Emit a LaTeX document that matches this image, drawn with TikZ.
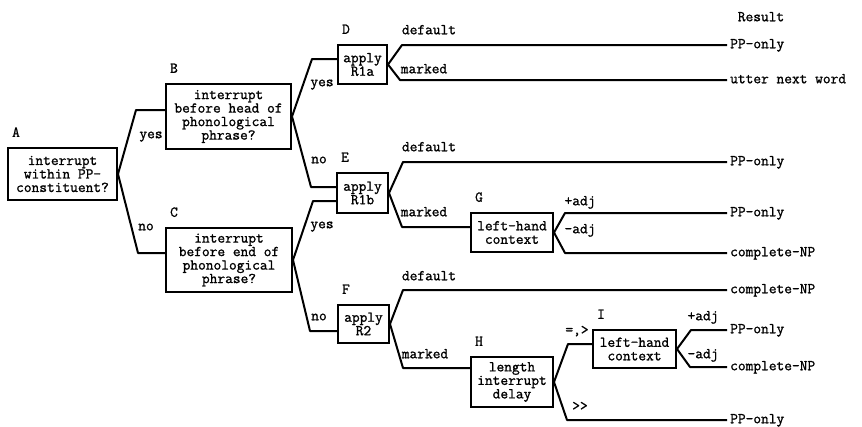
\documentclass[tikz,border=0pt]{standalone}
\usepackage{fontspec}
\newfontfamily\typewr{Latin Modern Mono}[FakeBold=1.2]
\usetikzlibrary{calc}

\begin{document}
\begin{tikzpicture}[x=1pt,y=-1pt,
  font=\typewr\fontsize{15}{13.5}\selectfont,
  box/.style={draw,line width=2pt,align=center,inner sep=0pt},
  tag/.style={inner sep=0pt,text height=9pt,text depth=2.5pt},
  res/.style={tag,anchor=west,inner xsep=3pt},
  branch/.style={line width=2pt,line join=round}]
  \useasboundingbox (0,0) rectangle (862,426);
  % decision boxes
  \node[box,minimum width=109pt,minimum height=52pt] (A) at (62.5,174) {interrupt\\within PP-\\constituent?};
  \node[box,minimum width=125pt,minimum height=65pt] (B) at (228.5,116.5) {interrupt\\before head of\\phonological\\phrase?};
  \node[box,minimum width=126pt,minimum height=64pt] (C) at (229,260) {interrupt\\before end of\\phonological\\phrase?};
  \node[box,minimum width=49pt,minimum height=39pt] (D) at (362.5,64.5) {apply\\R1a};
  \node[box,minimum width=51pt,minimum height=40pt] (E) at (362.5,193) {apply\\R1b};
  \node[box,minimum width=51pt,minimum height=38pt] (F) at (363.5,324) {apply\\R2};
  \node[box,minimum width=82pt,minimum height=39pt] (G) at (512,232.5) {left-hand\\context};
  \node[box,minimum width=82pt,minimum height=50pt] (H) at (512,382) {length\\interrupt\\delay};
  \node[box,minimum width=83pt,minimum height=38pt] (I) at (634.5,349) {left-hand\\context};
  % letters over the boxes
  \foreach \b in {A,B,C,D,E,F,G,H,I}
    \node[tag] (l\b) at ($(\b.north west)+(9,-13.5)$) {\b};
  % results
  \node[tag] (head) at (761,18) {Result};
  \node[res] (r1) at (727,45) {PP-only};
  \node[res] (r2) at (727,80) {utter next word};
  \node[res] (r3) at (727,162) {PP-only};
  \node[res] (r4) at (727,213) {PP-only};
  \node[res] (r5) at (727,253) {complete-NP};
  \node[res] (r6) at (727,290) {complete-NP};
  \node[res] (r7) at (727,330) {PP-only};
  \node[res] (r8) at (727,367) {complete-NP};
  \node[res] (r9) at (727,420) {PP-only};
  % branches
  \draw[branch] (A.east) -- (136,110) -- (B.west |- 0,110);
  \draw[branch] (A.east) -- (138,253) -- (C.west |- 0,253);
  \draw[branch] (B.east) -- (312,59) -- (D.west |- 0,59);
  \draw[branch] (B.east) -- (311,187) -- (E.west |- 0,187);
  \draw[branch] (C.east) -- (313,201) -- (E.west |- 0,201);
  \draw[branch] (C.east) -- (310,331) -- (F.west |- 0,331);
  \draw[branch] (D.east) -- (r1.west -| 402,0) -- (r1.west);
  \draw[branch] (D.east) -- (r2.west -| 400,0) -- (r2.west);
  \draw[branch] (E.east) -- (r3.west -| 403,0) -- (r3.west);
  \draw[branch] (E.east) -- (402,227) -- (G.west |- 0,227);
  \draw[branch] (G.east) -- (r4.west -| 565,0) -- (r4.west);
  \draw[branch] (G.east) -- (r5.west -| 565,0) -- (r5.west);
  \draw[branch] (F.east) -- (r6.west -| 403,0) -- (r6.west);
  \draw[branch] (F.east) -- (403,368) -- (H.west |- 0,368);
  \draw[branch] (H.east) -- (568,344) -- (I.west |- 0,344);
  \draw[branch] (H.east) -- (r9.west -| 567,0) -- (r9.west);
  \draw[branch] (I.east) -- (r7.west -| 691,0) -- (r7.west);
  \draw[branch] (I.east) -- (r8.west -| 690,0) -- (r8.west);
  % branch labels
  \node[tag] (y1) at (151,135) {yes};
  \node[tag] (n1) at (146,227) {no};
  \node[tag] (y2) at (322,83) {yes};
  \node[tag] (n2) at (319,160) {no};
  \node[tag] (y3) at (322,225) {yes};
  \node[tag] (n3) at (319,317) {no};
  \node[tag] (d1) at (429,31) {default};
  \node[tag] (m1) at (424,70) {marked};
  \node[tag] (d2) at (429,148) {default};
  \node[tag] (m2) at (424,213) {marked};
  \node[tag] (d3) at (429,277) {default};
  \node[tag] (m3) at (425,355) {marked};
  \node[tag] (p1) at (580,202) {+adj};
  \node[tag] (q1) at (580,230) {-adj};
  \node[tag] (ge) at (577,331) {=,>};
  \node[tag] (gg) at (580,407) {>>};
  \node[tag] (p2) at (703,317) {+adj};
  \node[tag] (q2) at (703,355) {-adj};
\end{tikzpicture}
\end{document}
